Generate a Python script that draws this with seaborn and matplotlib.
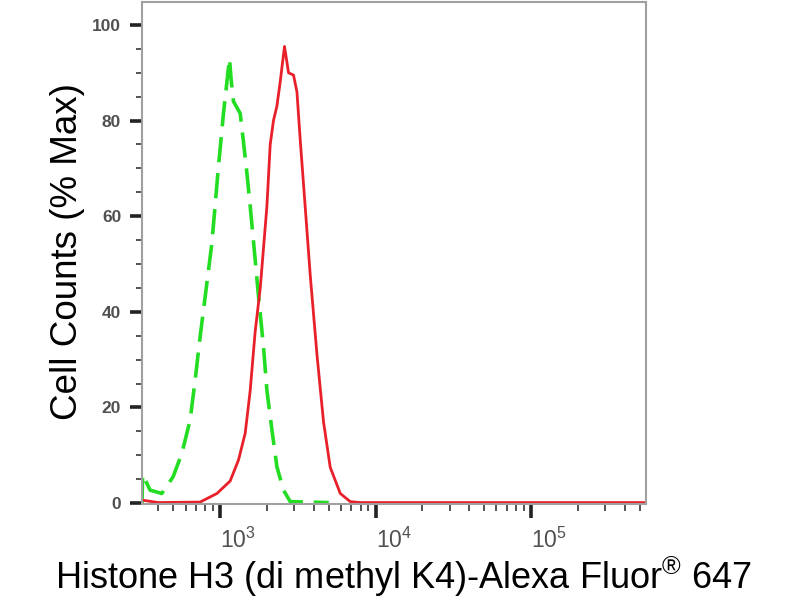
import matplotlib
matplotlib.use("Agg")
import matplotlib.pyplot as plt
from matplotlib.ticker import FixedLocator, LogLocator, MultipleLocator, NullFormatter, LogFormatterMathtext
import pandas as pd
import seaborn as sns

# fluorescence intensity vs % of max
green_x = [314, 317, 354, 421, 498, 567, 641, 690, 743, 801, 884, 975, 1050, 1148, 1177, 1218,
           1345, 1407, 1486, 1561, 1681, 1765, 1900, 1998, 2153, 2318, 2556, 2823, 5000]
green_y = [0, 6, 2.7, 2, 5.5, 10.4, 17.4, 25.7, 34.8, 43.2, 54.3, 70.4, 81.5, 93, 88.5, 84,
           81.5, 76, 69, 62, 50.8, 43.2, 32.7, 23.6, 15.3, 7.6, 2.7, 0.3, 0.1]

red_x = [315, 400, 743, 953, 1159, 1312, 1449, 1560, 1679, 1811, 1998, 2099, 2203, 2317, 2432,
         2594, 2754, 2965, 3119, 3274, 3524, 3802, 4198, 4624, 5105, 5929, 6870, 7962, 550000]
red_y = [0.6, 0.1, 0.2, 2.0, 4.6, 9, 14.6, 23.5, 35.8, 45, 62, 75, 80, 83, 88,
         95.5, 90, 89.5, 86, 76, 62, 47.5, 31, 17, 7.5, 2, 0.3, 0.1, 0.1]

x_major = [1e3, 1e4, 1e5]
y_major = [0, 20, 40, 60, 80, 100]

green = pd.DataFrame({"intensity": green_x, "pct": green_y})
red = pd.DataFrame({"intensity": red_x, "pct": red_y})

sns.set_style("ticks")
plt.rcParams["font.family"] = ["Liberation Sans", "DejaVu Sans"]

fig = plt.figure(figsize=(8, 6), dpi=100)
ax = fig.add_axes([0.1775, 0.16, 0.63, 0.8367])

# isotype control (dashed green) under the sample (solid red)
sns.lineplot(data=green, x="intensity", y="pct", ax=ax, color="#22dd22", lw=2.6,
             linestyle=(0, (7, 3)), sort=False, estimator=None)
sns.lineplot(data=red, x="intensity", y="pct", ax=ax, color="#e8202a", lw=2.0,
             sort=False, estimator=None)

ax.set_xscale("log")
ax.set_xlim(314, 550000)
ax.set_ylim(-0.2, 104.8)

ax.xaxis.set_major_locator(FixedLocator(x_major))
ax.xaxis.set_major_formatter(LogFormatterMathtext())
ax.xaxis.set_minor_locator(LogLocator(base=10, subs=range(2, 10), numticks=20))
ax.xaxis.set_minor_formatter(NullFormatter())
ax.yaxis.set_major_locator(FixedLocator(y_major))
ax.yaxis.set_minor_locator(MultipleLocator(5))

for s in ax.spines.values():
    s.set_color("#a0a0a0")
    s.set_linewidth(1.5)

ax.tick_params(axis="y", which="major", direction="out", length=9, width=2.6,
               color="#222222", labelsize=12.5, labelcolor="#505050", pad=6)
ax.tick_params(axis="y", which="minor", direction="out", length=4, width=1.3, color="#444444")
ax.tick_params(axis="x", which="major", direction="out", length=10, width=2.6,
               color="#222222", labelsize=16.5, labelcolor="#505050", pad=7)
ax.tick_params(axis="x", which="minor", direction="out", length=5, width=1.3, color="#444444")
plt.setp(ax.get_xticklabels(), ha="left")
plt.setp(ax.get_yticklabels(), fontweight="bold")

ax.set_xlabel("Histone H3 (di methyl K4)-Alexa Fluor$^{\\mathregular{®}}$ 647",
              fontsize=26, color="black", va="center")
ax.set_ylabel("Cell Counts (% Max)", fontsize=26.5, color="black", va="center")
ax.xaxis.set_label_coords(0.519, -0.145)
ax.yaxis.set_label_coords(-0.147, 0.502)

fig.savefig("out.png", dpi=100)
